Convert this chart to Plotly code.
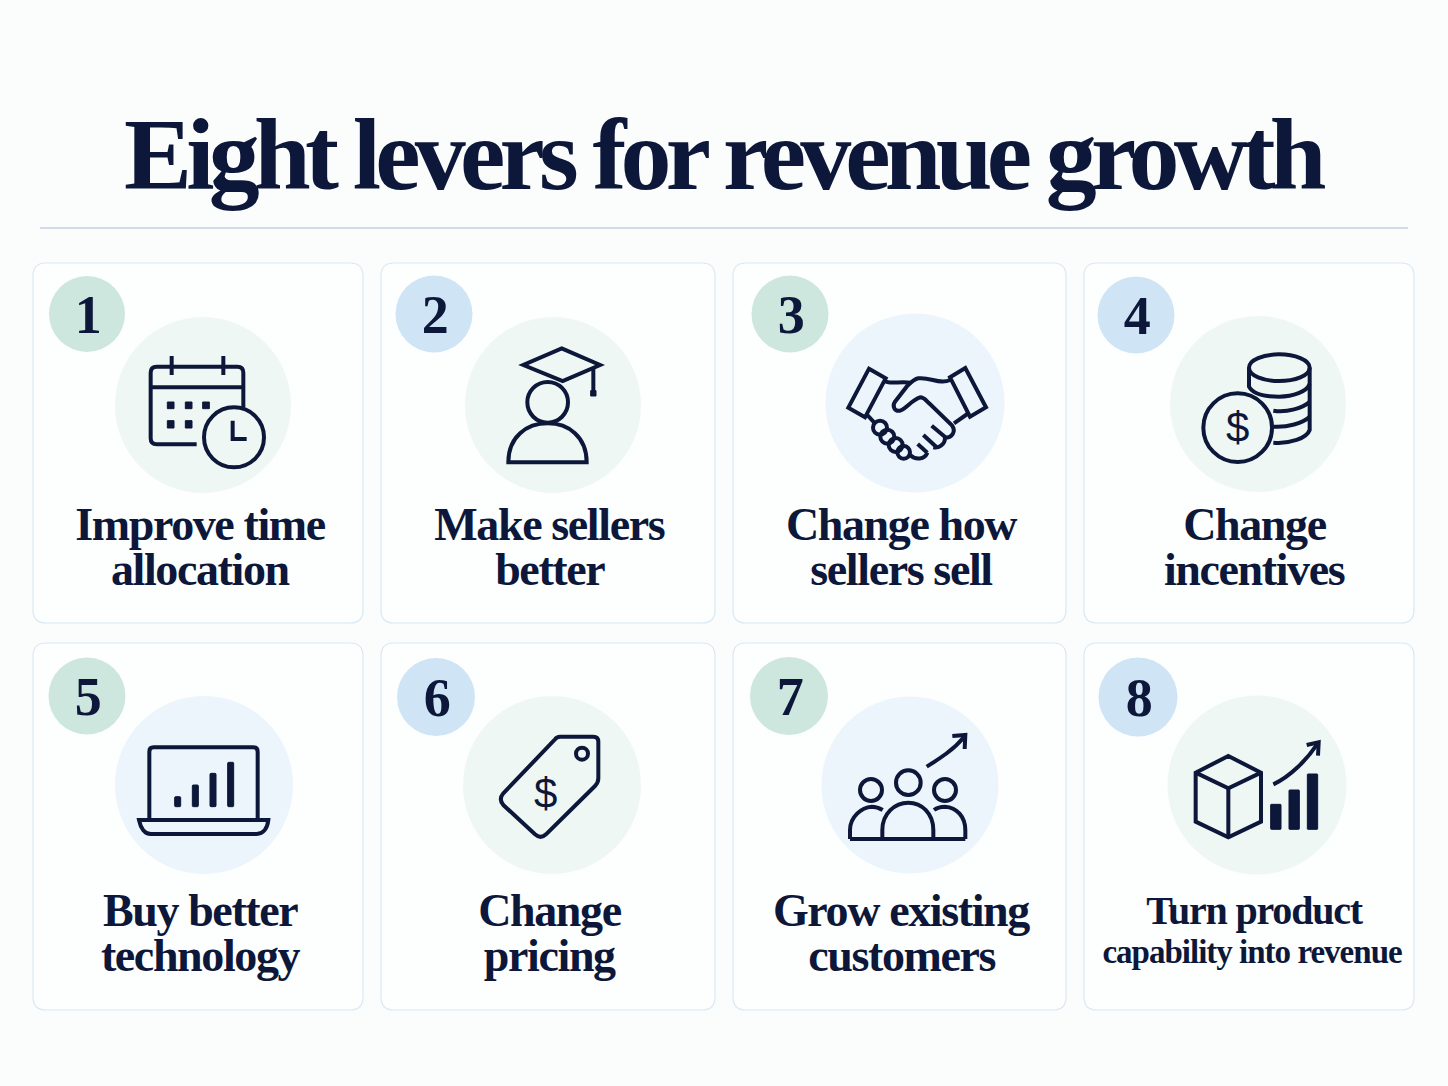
#!/usr/bin/env python3

import re
import plotly.graph_objects as go

TITLE = 'Eight levers for revenue growth'
NUMBERS = ['1', '2', '3', '4', '5', '6', '7', '8']
LINE_ONE = ['Improve time', 'Make sellers', 'Change how', 'Change',
            'Buy better', 'Change', 'Grow existing', 'Turn product']
LINE_TWO = ['allocation', 'better', 'sellers sell', 'incentives',
            'technology', 'pricing', 'customers', 'capability into revenue']

NAVY = '#0c1739'
PAGE = '#fbfdfd'
CARD = '#fdfefe'
CARD_EDGE = '#d8e8f4'
BADGE_GREEN = '#cde7de'
BADGE_BLUE = '#cfe4f5'
DISC_GREEN = '#eff7f4'
DISC_BLUE = '#ebf5fb'
SERIF = 'Liberation Serif'
SANS = 'Liberation Sans'
STROKE = 4

# left, right / top, bottom of the card grid
COLS = [(33, 363), (381, 715), (733, 1066), (1084, 1414)]
ROWS = [(263, 623), (643, 1010)]
LABEL_X = [200, 549, 901, 1254]
LABEL_MID = [(524, 569), (910, 955)]
BADGES = [(87, 314, 38), (434, 314, 38.5), (790, 314, 38.5), (1136, 315, 38.5),
          (87, 696, 38.5), (436, 697, 39), (789, 696, 39), (1138, 697, 39.5)]
DISCS = [(203, 405, 88), (553, 405, 88), (915, 403, 89.5), (1258, 404, 88),
         (204, 785, 89), (552, 785, 89), (910, 785, 88.5), (1257, 785, 89.5)]
# where each icon was read from: drawn in 3x units from these corners
ORIGINS = [(30, 260), (380, 260), (730, 260), (1080, 260),
           (30, 640), (380, 640), (730, 640), (1080, 640)]

shapes = []
annotations = []


def place(origin, d):
    out = []
    for tok in re.findall(r'[A-Za-z]|-?\d+\.?\d*,-?\d+\.?\d*', d):
        if tok.isalpha():
            out.append(tok)
        else:
            x, y = tok.split(',')
            out.append(f'{origin[0] + float(x) / 3:.2f},{origin[1] + float(y) / 3:.2f}')
    return ' '.join(out)


def stroke(origin, d, fill='rgba(0,0,0,0)', width=STROKE):
    shapes.append(dict(type='path', path=place(origin, d), fillcolor=fill,
                       line=dict(color=NAVY, width=width)))


def solid(origin, d):
    shapes.append(dict(type='path', path=place(origin, d), fillcolor=NAVY,
                       line=dict(color=NAVY, width=1)))


def disc(cx, cy, r, fill, edge=None, width=0):
    shapes.append(dict(type='circle', x0=cx - r, x1=cx + r, y0=cy - r, y1=cy + r,
                       fillcolor=fill, line=dict(color=edge or fill, width=width)))


def ring(origin, x, y, r, fill='rgba(0,0,0,0)'):
    disc(origin[0] + x / 3, origin[1] + y / 3, r / 3, fill, NAVY, STROKE)


def rounded(x0, y0, x1, y1, r):
    return (f'M{x0 + r},{y0} L{x1 - r},{y0} Q{x1},{y0} {x1},{y0 + r} L{x1},{y1 - r} '
            f'Q{x1},{y1} {x1 - r},{y1} L{x0 + r},{y1} Q{x0},{y1} {x0},{y1 - r} '
            f'L{x0},{y0 + r} Q{x0},{y0} {x0 + r},{y0} Z')


def text(x, y, s, size, family=SERIF, weight=700):
    annotations.append(dict(x=x, y=y, text=s, showarrow=False, xanchor='center',
                            yanchor='middle', font=dict(family=family, size=size,
                                                        color=NAVY, weight=weight)))


def icon_calendar(o):
    stroke(o, 'M500,553 L380,553 Q362,553 362,535 L362,338 Q362,320 380,320 '
              'L622,320 Q640,320 640,338 L640,442')
    stroke(o, 'M362,382 L640,382')
    stroke(o, 'M425,288 L425,345')
    stroke(o, 'M580,288 L580,345')
    for x in (422, 476, 528):
        solid(o, f'M{x - 10},426 L{x + 10},426 L{x + 10},446 L{x - 10},446 Z')
    for x in (422, 476):
        solid(o, f'M{x - 10},482 L{x + 10},482 L{x + 10},504 L{x - 10},504 Z')
    ring(o, 612, 532, 90)
    stroke(o, 'M608,482 L608,537 L650,537')


def icon_graduate(o):
    stroke(o, 'M545,265 L660,315 L548,363 L430,315 Z')
    stroke(o, 'M640,325 L640,395')
    solid(o, 'M632,392 L648,392 L648,408 L632,408 Z')
    ring(o, 503, 427, 61)
    stroke(o, 'M385,607 C385,530 440,490 503,490 C565,490 620,530 620,607 Z')


def icon_handshake(o):
    stroke(o, 'M417,326 L467,355 L405,472 L355,443 Z')
    stroke(o, 'M706,324 L660,352 L720,470 L768,442 Z')
    stroke(o, 'M462,362 C480,375 510,362 540,368')
    stroke(o, 'M660,360 C630,375 600,350 565,355 C550,358 540,370 530,380 L495,425 '
              'C485,440 495,455 510,452 C530,445 545,420 570,412 C585,412 590,425 600,432 '
              'L665,495 C680,515 665,535 645,533 C645,555 625,565 610,562')
    stroke(o, 'M605,497 L648,533')
    stroke(o, 'M580,525 L620,562')
    stroke(o, 'M563,552 L592,578')
    stroke(o, 'M592,578 C585,600 555,600 540,585')
    stroke(o, 'M412,465 L435,490')
    stroke(o, 'M672,490 L712,462')
    for x, y, r in ((450, 503, 21), (472, 530, 21), (497, 555, 21), (521, 577, 19)):
        ring(o, x, y, r)


def icon_coins(o):
    stroke(o, 'M507,323 C507,300 550,283 597,283 C645,283 689,300 689,323 '
              'C689,347 645,363 597,363 C550,363 507,347 507,323 Z')
    stroke(o, 'M507,323 L507,380 C520,405 560,410 597,410 C640,410 680,395 689,372')
    stroke(o, 'M689,323 L689,510 C680,535 630,552 580,548')
    stroke(o, 'M580,452 C620,458 670,445 689,425')
    stroke(o, 'M580,500 C620,503 670,490 689,470')
    ring(o, 473, 503, 103, DISC_GREEN)
    text(o[0] + 473 / 3, o[1] + 503 / 3, '$', 42, SANS, 400)


def icon_laptop(o):
    stroke(o, 'M358,535 L358,335 Q358,322 371,322 L670,322 Q683,322 683,335 L683,535')
    stroke(o, 'M327,540 L715,540 C712,565 700,582 680,582 L362,582 C345,582 332,565 327,540 Z')
    for x0, y0 in ((434, 470), (487, 435), (540, 400), (593, 367)):
        solid(o, rounded(x0, y0, x0 + 18, 500, 3))


def icon_tag(o):
    stroke(o, 'M540,290 L640,290 Q655,290 655,305 L655,415 Q655,428 645,438 L498,583 '
              'Q482,598 465,583 L370,495 Q355,478 370,460 L525,298 Q530,290 540,290 Z')
    ring(o, 606, 341, 18)
    text(o[0] + 495 / 3, o[1] + 460 / 3, '$', 42, SANS, 400)


def icon_team(o):
    stroke(o, 'M590,380 C630,355 670,330 703,290')
    stroke(o, 'M667,288 L706,285 L704,327')
    ring(o, 535, 428, 37)
    ring(o, 423, 450, 33)
    ring(o, 645, 450, 33)
    stroke(o, 'M457,595 L457,570 C457,520 495,488 535,488 C575,488 610,520 610,570 L610,595')
    stroke(o, 'M360,597 L706,597')
    stroke(o, 'M360,597 L360,570 C360,530 395,502 425,500 C440,500 450,505 458,510')
    stroke(o, 'M612,510 C625,500 635,500 645,500 C680,502 706,530 706,570 L706,597')


def icon_product(o):
    stroke(o, 'M445,348 L543,398 L543,545 L445,592 L347,545 L347,398 Z')
    stroke(o, 'M347,398 L445,445 L543,398')
    stroke(o, 'M445,445 L445,592')
    for x0, y0 in ((572, 493), (627, 450), (682, 402)):
        solid(o, rounded(x0, y0, x0 + 31, 568, 2))
    stroke(o, 'M580,433 C630,410 680,360 712,312')
    stroke(o, 'M680,315 L716,307 L714,347')


ICONS = [icon_calendar, icon_graduate, icon_handshake, icon_coins,
         icon_laptop, icon_tag, icon_team, icon_product]

shapes.append(dict(type='line', x0=40, x1=1408, y0=228, y1=228,
                   line=dict(color='#a9bbd6', width=1)))
text(722, 154, TITLE, 102)

for i, num in enumerate(NUMBERS):
    col = i % 4
    row = i // 4
    x0, x1 = COLS[col]
    y0, y1 = ROWS[row]
    # card outline with rounded corners
    shapes.append(dict(type='path', path=rounded(x0, y0, x1, y1, 13), fillcolor=CARD,
                       line=dict(color=CARD_EDGE, width=1.2)))
    bx, by, br = BADGES[i]
    disc(bx, by, br, BADGE_GREEN if col % 2 == 0 else BADGE_BLUE)
    dx, dy, dr = DISCS[i]
    disc(dx, dy, dr, DISC_BLUE if i in (2, 4, 6) else DISC_GREEN)
    text(bx, by + 1, num, 54)
    ICONS[i](ORIGINS[i])
    mid_one, mid_two = LABEL_MID[row]
    if i == 7:
        text(LABEL_X[col], mid_one, LINE_ONE[i], 40)
        text(1252, mid_two - 3, LINE_TWO[i], 33)
    else:
        text(LABEL_X[col], mid_one, LINE_ONE[i], 46)
        text(LABEL_X[col], mid_two, LINE_TWO[i], 46)

fig = go.Figure()
fig.update_layout(
    width=1448,
    height=1086,
    margin=dict(l=0, r=0, t=0, b=0),
    paper_bgcolor=PAGE,
    plot_bgcolor=PAGE,
    showlegend=False,
    shapes=shapes,
    annotations=annotations,
    xaxis=dict(range=[0, 1448], visible=False, fixedrange=True),
    yaxis=dict(range=[1086, 0], visible=False, fixedrange=True),
)

# tight tracking of the display serif; plotly has no font option for it
POST = """
document.body.style.margin = '0';
document.querySelectorAll('.annotation-text').forEach(function (t) {
  var s = t.textContent;
  if (s === '$') return;
  t.style.letterSpacing = s.indexOf('Eight') === 0 ? '-0.057em' : '-0.03em';
});
"""
fig.write_html("out.html", post_script=POST, config=dict(displayModeBar=False))
